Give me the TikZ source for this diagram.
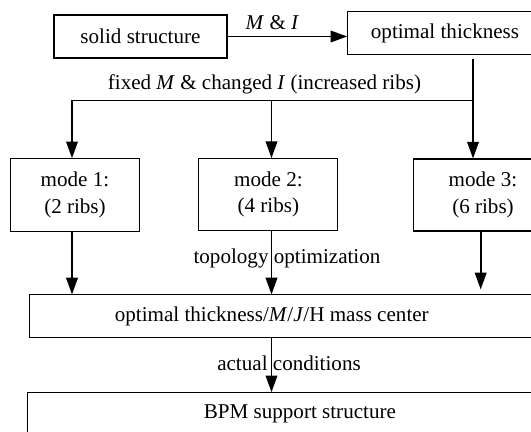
\documentclass[tikz,border=0pt]{standalone}
\usepackage{fontspec}
\setmainfont{Liberation Serif}
\usepackage{tikz}
\usetikzlibrary{arrows.meta,positioning}
\tikzset{
  box/.style={rectangle, draw=black, line width=0.6pt, minimum width=#1,
              minimum height=0.85cm, inner sep=2pt, text centered, align=center},
  arr/.style={-{Triangle[length=9.5pt,width=6.6pt]}, line width=1pt},
}

\begin{document}
\begin{tikzpicture}[x=0.02cm, y=-0.02cm, font=\fontsize{12}{15}\selectfont]
        \clip (0,0) rectangle (531,432);
        \node[box=3.46cm, minimum height=0.86cm] (solid) at (140.5,36.5) {solid structure};
        \node[box=3.89cm] (thick) at (445,33) {optimal thickness};
        \node[box=2.57cm, minimum height=1.45cm] (mode1) at (75,195) {mode 1:\\(2 ribs)};
        \node[box=2.78cm, minimum height=1.44cm] (mode2) at (268.4,194.6) {mode 2:\\(4 ribs)};
        \node[box=2.78cm, minimum height=1.44cm] (mode3) at (483,195) {mode 3:\\(6 ribs)};
        \node[box=10.6cm, label={[xshift=-0.444cm]center:{optimal thickness/\textit{M}/\textit{J}/H mass center}}]
              (mass) at (294,316.2) {};
        \node[box=10.91cm] (bpm) at (299.9,414) {BPM support structure};

        \coordinate (fork) at (473,100.5);
        \coordinate (c1) at (72,100.5);
        \coordinate (c2) at (271.5,100.5);
        \coordinate (c3) at (480.7,100.5);

        \draw[arr] (solid.east) -- (solid.east -| thick.west)
              node[midway, above, xshift=-0.3cm] {\textit{M} \& \textit{I}};
        \draw[arr] ([yshift=-0.08cm]thick.south -| fork) -- (fork |- mode3.north);
        \draw[arr] (fork) -- node[above, xshift=-0.16cm]
              {fixed \textit{M} \& changed \textit{I} (increased ribs)} (c1) -- (c1 |- mode1.north);
        \draw[arr] (c2) -- (c2 |- mode2.north);
        \draw[arr] (mode1.south -| c1) -- (c1 |- mass.north);
        \draw[arr] (mode2.south -| c2) -- (c2 |- mass.north)
              node[pos=0.43, xshift=0.31cm] {topology optimization};
        \draw[arr, shorten >=0.1cm] (mode3.south -| c3) -- (c3 |- mass.north);
        \draw[arr] (mass.south -| c2) -- (c2 |- bpm.north)
              node[pos=0.46, xshift=0.35cm] {actual conditions};
      \end{tikzpicture}
\end{document}
